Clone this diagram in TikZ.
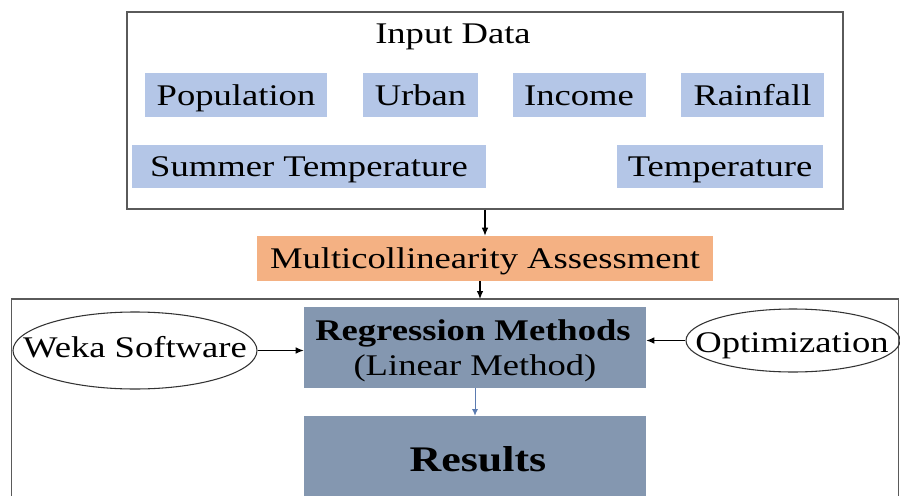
\documentclass[tikz,border=0pt]{standalone}
\usepackage{fontspec}
\setmainfont{Liberation Serif}[FakeStretch=1.22]
\usetikzlibrary{arrows.meta,shapes.geometric}
\definecolor{itembg}{HTML}{B4C6E7}
\definecolor{assessbg}{HTML}{F4B183}
\definecolor{methodbg}{HTML}{8497B0}
\definecolor{framecol}{HTML}{5A5A5A}
\definecolor{linkblue}{HTML}{5B7BB0}
\tikzset{
  txt/.style={font=\fontsize{22.5}{27}\selectfont, inner sep=0pt, text height=15pt, text depth=0pt},
  item/.style={txt, fill=itembg, minimum height=33pt},
  frame/.style={draw=framecol, line width=1pt},
  oval/.style={ellipse, draw=black!80, line width=0.8pt, inner sep=0pt},
  arr/.style={-{Latex[length=6pt,width=5pt]}, line width=0.9pt, black},
}
\begin{document}
\begin{tikzpicture}[x=0.75pt,y=-0.75pt]
\useasboundingbox (0,0) rectangle (900,496);
\clip (0,0) rectangle (900,496);
\fill[white] (0,0) rectangle (900,496);

% input data panel
\node[frame, minimum width=537pt, minimum height=147.75pt, inner sep=0pt] (inbox) at (485,110.5) {};
\node[txt] (intitle) at (453,33) {Input Data};
\node[item, minimum width=136.5pt] (pop) at (236,95) {Population};
\node[item, minimum width=86.25pt] (urb) at (420.5,95) {Urban};
\node[item, minimum width=99.75pt] (inc) at (579,95) {Income};
\node[item, minimum width=107.25pt] (rain) at (752.5,95) {Rainfall};
\node[item, minimum width=265.5pt, minimum height=32.25pt] (sumt) at (309,166.5) {Summer Temperature};
\node[item, minimum width=154.5pt, minimum height=32.25pt] (temp) at (720,166.5) {Temperature};

% assessment step
\node[txt, fill=assessbg, minimum width=342pt, minimum height=33.75pt] (multi) at (485,258.5) {Multicollinearity Assessment};

% modelling panel (open at the bottom)
\coordinate (ftop) at (480,299);
\draw[frame] (11.5,530) -- (11.5,299) -- (898.5,299) -- (898.5,530);

\node[fill=methodbg, minimum width=256.5pt, minimum height=60.75pt, inner sep=0pt] (reg) at (475,347.5) {};
\node[txt, font=\fontsize{22.5}{27}\selectfont\bfseries] (regtitle) at (473,330) {Regression Methods};
\node[txt] (regsub) at (475,365) {(Linear Method)};

\node[fill=methodbg, minimum width=256.5pt, minimum height=63pt, inner sep=0pt] (res) at (475,458) {};
\node[txt, font=\fontsize{27}{32}\selectfont\bfseries, text height=18pt] (restitle) at (478,459) {Results};

\node[oval, minimum width=183pt, minimum height=57.75pt] (weka) at (135,350.5) {};
\node[txt] (wekatxt) at (135,347) {Weka Software};
\node[oval, minimum width=160.5pt, minimum height=47.25pt] (opt) at (793,340.5) {};
\node[txt] (opttxt) at (792,342.5) {Optimization};

% connectors
\draw[arr] (inbox.south -| multi.north) -- (multi.north);
\draw[arr] (multi.south -| ftop) -- (ftop);
\draw[arr] (weka.east) -- (weka.east -| reg.west);
\draw[arr] (opt.west) -- (opt.west -| reg.east);
\draw[-{Latex[length=5pt,width=4.5pt]}, line width=0.7pt, linkblue] (reg.south) -- (res.north);
\end{tikzpicture}
\end{document}
